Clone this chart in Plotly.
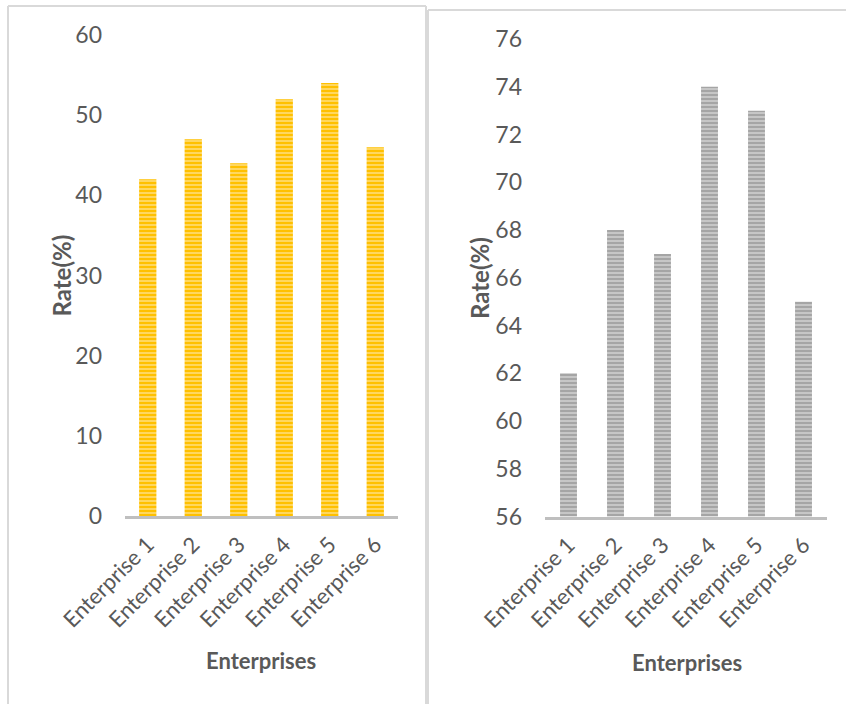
import plotly.graph_objects as go

# Data
enterprises = ["Enterprise 1", "Enterprise 2", "Enterprise 3",
               "Enterprise 4", "Enterprise 5", "Enterprise 6"]
rate_left = [42, 47, 44, 52, 54, 46]
rate_right = [62, 68, 67, 74, 73, 65]
left_ticks = [0, 10, 20, 30, 40, 50, 60]
right_ticks = [56, 58, 60, 62, 64, 66, 68, 70, 72, 74, 76]

W, H = 846, 704
FONT = "Lato"
TXT = "#595959"


def px(x):
    return x / W


def py(y):
    return 1 - y / H


fig = go.Figure()

fig.add_trace(go.Bar(
    x=enterprises, y=rate_left, xaxis="x", yaxis="y",
    width=0.38,
    marker=dict(color="#FFC000", line=dict(width=0),
                pattern=dict(shape="-", fgcolor="#FFDA6A", bgcolor="#FFC000",
                             size=4, solidity=0.45)),
    showlegend=False,
))
fig.add_trace(go.Bar(
    x=enterprises, y=rate_right, xaxis="x2", yaxis="y2",
    width=0.36,
    marker=dict(color="#A5A5A5", line=dict(width=0),
                pattern=dict(shape="-", fgcolor="#CACACA", bgcolor="#A5A5A5",
                             size=4, solidity=0.45)),
    showlegend=False,
))

xcommon = dict(showgrid=False, zeroline=False, showline=True, linecolor="#BFBFBF",
               linewidth=3, ticks="", tickangle=-45, automargin=False,
               ticklabelstandoff=4,
               tickfont=dict(family=FONT, size=22, color=TXT))
ycommon = dict(showgrid=False, zeroline=False, showline=False, ticks="",
               automargin=False,
               tickfont=dict(family=FONT, size=23, color=TXT), ticklabelstandoff=22)

fig.update_layout(
    template="none",
    width=W, height=H,
    margin=dict(l=0, r=0, t=0, b=0, pad=0),
    paper_bgcolor="white", plot_bgcolor="white",
    xaxis=dict(domain=[px(125), px(398)], anchor="y", **xcommon),
    yaxis=dict(domain=[py(516), py(35)], anchor="x", range=[0, 60],
               tickvals=left_ticks, **ycommon),
    xaxis2=dict(domain=[px(545), px(827)], anchor="y2", **xcommon),
    yaxis2=dict(domain=[py(516.5), py(39)], anchor="x2", range=[56, 76],
                tickvals=right_ticks, **ycommon),
)

# Axis titles
titles = [
    dict(text="<b>Rate(%)</b>", x=px(60.5), y=py(276), textangle=-90, size=24),
    dict(text="<b>Rate(%)</b>", x=px(479), y=py(278), textangle=-90, size=24),
    dict(text="<b>Enterprises</b>", x=px(261), y=py(660), textangle=0, size=22),
    dict(text="<b>Enterprises</b>", x=px(687), y=py(662), textangle=0, size=22),
]
for t in titles:
    size = t.pop("size")
    fig.add_annotation(xref="paper", yref="paper", showarrow=False,
                       xanchor="center", yanchor="middle",
                       font=dict(family=FONT, size=size, color=TXT), **t)

# Panel frames
frame = dict(color="#D9D9D9", width=2)
for x0, y0, x1, y1 in [
    (8, 6, 426, 6), (8, 6, 8, 704), (426, 6, 426, 704),
    (428, 10, 846, 10), (428, 10, 428, 704),
]:
    fig.add_shape(type="line", xref="paper", yref="paper",
                  x0=px(x0), y0=py(y0), x1=px(x1), y1=py(y1), line=frame)

fig.write_html("out.html")
